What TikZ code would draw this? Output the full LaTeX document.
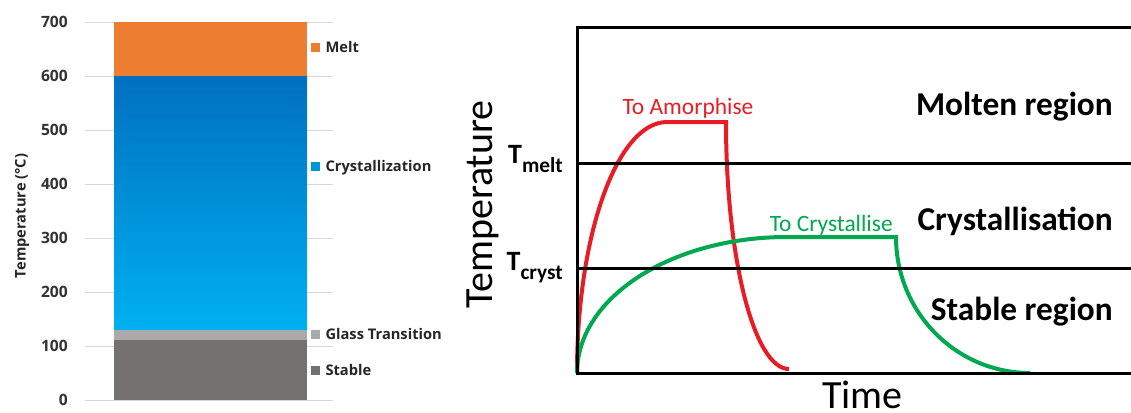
\documentclass[tikz,border=0pt]{standalone}
\usepackage{fontspec}
\setmainfont{Carlito}
\newfontfamily\chartfont{Open Sans}
\usetikzlibrary{positioning}

\definecolor{meltorange}{RGB}{237,125,49}
\definecolor{crysttop}{RGB}{0,112,192}
\definecolor{crystbot}{RGB}{0,176,240}
\definecolor{crystkey}{RGB}{0,150,220}
\definecolor{glassgray}{RGB}{170,170,170}
\definecolor{stablegray}{RGB}{118,113,113}
\definecolor{gridgray}{RGB}{217,217,217}
\definecolor{ticktext}{RGB}{50,50,50}
\definecolor{amorred}{RGB}{232,28,36}
\definecolor{crystgreen}{RGB}{0,168,80}

\begin{document}
\begin{tikzpicture}[x=0.75pt, y=0.75pt,
    tick/.style={font=\chartfont\bfseries\fontsize{11.7}{14}\selectfont, text=ticktext,
                 anchor=east, inner sep=0pt, text height=8.4pt, text depth=0pt},
    key/.style={minimum size=6.75pt, inner sep=0pt},
    keytext/.style={font=\chartfont\bfseries\fontsize{11}{13}\selectfont, text=black!85,
                    inner sep=0pt, text height=7.9pt, text depth=0pt},
    region/.style={font=\bfseries\fontsize{25}{30}\selectfont, anchor=base east, inner sep=0pt},
    label/.style={font=\fontsize{17.6}{20}\selectfont, inner sep=0pt},
    axis/.style={font=\fontsize{30}{36}\selectfont, inner sep=0pt},
    level/.style={line width=2.25pt},
    curve/.style={line width=3pt}
]
    \useasboundingbox (0,0) rectangle (1131,412);

    % stacked bar
    \foreach \t in {0,100,...,700} {
        \draw[gridgray, line width=0.75pt] (85,{12+0.54*\t}) -- (333,{12+0.54*\t});
        \node[tick] (tick\t) at (68,{12+0.54*\t}) {\t};
    }
    \fill[stablegray] (114,12) rectangle (307,{12+0.54*112});
    \fill[glassgray] (114,{12+0.54*112}) rectangle (307,{12+0.54*130});
    \shade[top color=crysttop, bottom color=crystbot] (114,{12+0.54*130}) rectangle (307,{12+0.54*600});
    \fill[meltorange] (114,{12+0.54*600}) rectangle (307,390);
    \node[rotate=90, font=\chartfont\bfseries\fontsize{11}{13}\selectfont, text=black!85] (ytitle) at (22,196) {Temperature (°C)};

    \node[key, fill=meltorange] (kmelt) at (315.5,365) {};
    \node[key, fill=crystkey] (kcryst) at (315.5,246) {};
    \node[key, fill=glassgray] (kglass) at (315.5,78) {};
    \node[key, fill=stablegray] (kstable) at (315.5,42) {};
    \node[keytext, right=3.75pt of kmelt] (lmelt) {Melt};
    \node[keytext, right=3.75pt of kcryst] (lcryst) {Crystallization};
    \node[keytext, right=3.75pt of kglass] (lglass) {Glass Transition};
    \node[keytext, right=3.75pt of kstable] (lstable) {Stable};

    % temperature profiles
    \draw[curve, amorred] (577,39) arc[start angle=180, end angle=90, x radius=90, y radius=251]
        -- (726,290) arc[start angle=180, end angle=270, x radius=63, y radius=247];
    \draw[curve, crystgreen] (577,39) arc[start angle=180, end angle=90, x radius=210, y radius=136]
        -- (896,175) arc[start angle=180, end angle=270, x radius=134, y radius=136];

    \coordinate (top) at (577,385);
    \coordinate (origin) at (577,39);
    \coordinate (melt) at (577,249);
    \coordinate (cryst) at (577,144);
    \draw[level] (top -| 1131,0) -- (top) -- (origin) -- (origin -| 1131,0);
    \draw[level] (melt) -- (melt -| 1131,0);
    \draw[level] (cryst) -- (cryst -| 1131,0);

    \node[label, text=amorred, anchor=base] (amor) at (688,298) {To Amorphise};
    \node[label, text=crystgreen, anchor=base east] (crys) at (893,181) {To Crystallise};
    \node[region] (molten) at (1113,297) {Molten region};
    \node[region] (crysreg) at (1113,182) {Crystallisation};
    \node[region] (stable) at (1113,92) {Stable region};

    \node[anchor=base east, inner sep=0pt, font=\bfseries\fontsize{21}{24}\selectfont] (tmelt) at (563,249)
        {T\raisebox{-6.75pt}{\fontsize{16}{18}\selectfont melt}};
    \node[anchor=base east, inner sep=0pt, font=\bfseries\fontsize{21}{24}\selectfont] (tcryst) at (563,142)
        {T\raisebox{-6.75pt}{\fontsize{16}{18}\selectfont cryst}};
    \node[axis, rotate=90, anchor=base] (temp) at (492,207.5) {Temperature};
    \node[axis, anchor=base west] (time) at (822,4) {Time};
\end{tikzpicture}
\end{document}
